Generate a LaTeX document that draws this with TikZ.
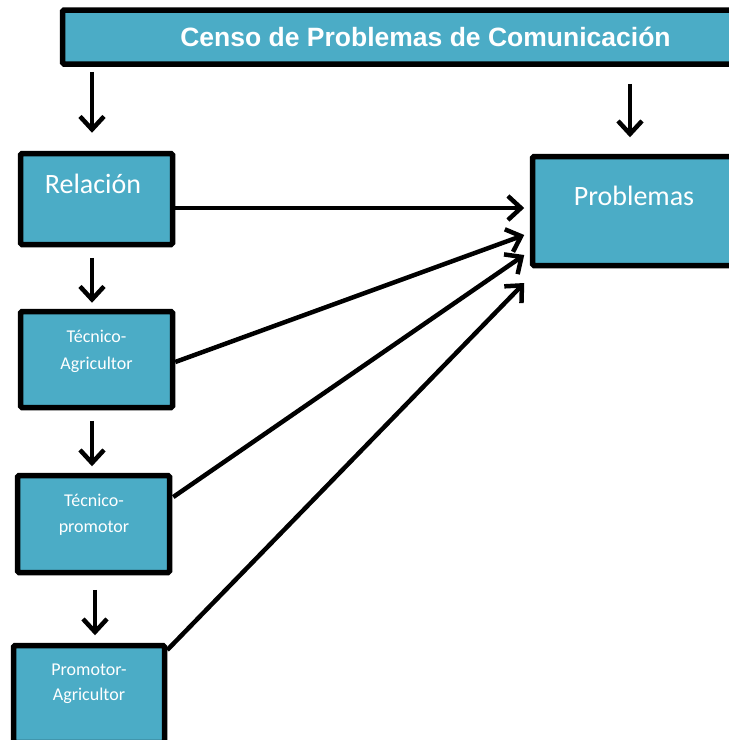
\documentclass[tikz,border=0pt]{standalone}
\usepackage{fontspec}
\setmainfont{Carlito}
\newfontfamily\titlefont{Liberation Sans}
\usetikzlibrary{arrows.meta,calc}
\definecolor{cajaazul}{HTML}{4BACC6}
\begin{document}
\begin{tikzpicture}[x=1pt,y=-1pt,
    caja/.style={draw=black,fill=cajaazul,line width=5.5pt,rounded corners=1.5pt,inner sep=0pt},
    texto/.style={text=white,anchor=base,align=center,inner sep=0pt},
    flecha/.style={line width=4.5pt,-{Straight Barb[length=13pt,width=24pt]}}]
    \useasboundingbox (0,0) rectangle (729,740);
    \clip (0,0) rectangle (729,740);
    \node[caja,minimum width=697pt,minimum height=54pt] at (411,37) (censo) {};
    \node[caja,minimum width=152pt,minimum height=91pt] at (96.5,199) (rel) {};
    \node[caja,minimum width=152pt,minimum height=96pt] at (96.5,359.5) (tecagr) {};
    \node[caja,minimum width=152pt,minimum height=97pt] at (93.5,524) (tecpro) {};
    \node[caja,minimum width=151pt,minimum height=97pt] at (89,694) (proagr) {};
    \node[caja,minimum width=228pt,minimum height=109pt] at (646.5,211) (prob) {};
    \node[texto,font=\titlefont\bfseries\fontsize{26.5}{30}\selectfont] at (425.5,46.5) (tcenso) {Censo de Problemas de Comunicación};
    \node[texto,font=\fontsize{28}{32}\selectfont] at (93,193) (trel) {Relación};
    \node[texto,font=\fontsize{18}{27}\selectfont] at (96.5,369) (ttecagr) {Técnico-\\Agricultor};
    \node[texto,font=\fontsize{18}{26}\selectfont] at (94,532) (ttecpro) {Técnico-\\promotor};
    \node[texto,font=\fontsize{18}{25}\selectfont] at (89,700) (tproagr) {Promotor-\\Agricultor};
    \node[texto,font=\fontsize{28}{32}\selectfont] at (634,205) (tprob) {Problemas};
    \draw[flecha] ($(censo.south -| rel.north)+(-4.5,5)$) -- ($(rel.north)+(-4.5,-18)$);
    \draw[flecha] ($(censo.south -| prob.north)+(-16.5,17)$) -- ($(prob.north)+(-16.5,-16.5)$);
    \draw[flecha] ($(rel.south)+(-4.5,10.5)$) -- ($(tecagr.north)+(-4.5,-6)$);
    \draw[flecha] ($(tecagr.south)+(-4.5,10.5)$) -- ($(tecpro.north)+(-1.5,-6.5)$);
    \draw[flecha] ($(tecpro.south)+(1.5,14.5)$) -- ($(proagr.north)+(6,-7.5)$);
    \draw[flecha] ($(rel.east)+(0,9)$) -- ($(prob.west)+(-5.5,-3)$);
    \draw[flecha] ($(tecagr.east)+(0,2.5)$) -- ($(prob.west)+(-5.5,24)$);
    \draw[flecha] ($(tecpro.east)+(1,-27)$) -- ($(prob.west)+(-5.5,44)$);
    \draw[flecha] ($(proagr.east)+(0,-44)$) -- ($(prob.west)+(-5.5,72)$);
\end{tikzpicture}
\end{document}
